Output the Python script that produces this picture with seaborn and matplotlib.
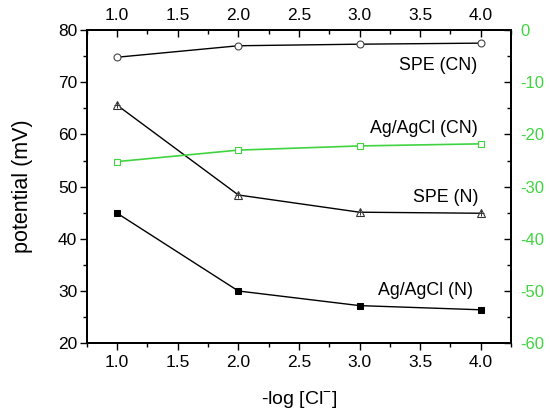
import matplotlib
matplotlib.use("Agg")
import matplotlib.pyplot as plt
import seaborn as sns
import pandas as pd
from matplotlib.ticker import MultipleLocator

sns.set_style("ticks")
plt.rcParams['font.family'] = ['Liberation Sans', 'DejaVu Sans']
plt.rcParams['mathtext.fontset'] = 'custom'
plt.rcParams['mathtext.rm'] = 'Liberation Sans'
plt.rcParams['axes.unicode_minus'] = False
plt.rcParams['text.color'] = 'black'
plt.rcParams['axes.labelcolor'] = 'black'
plt.rcParams['xtick.color'] = 'black'
plt.rcParams['ytick.color'] = 'black'
plt.rcParams['axes.edgecolor'] = 'black'

x = [1.0, 2.0, 3.0, 4.0]
spe_cn = [74.8, 77.0, 77.3, 77.5]
spe_n = [65.6, 48.4, 45.1, 44.9]
agcl_n = [44.9, 30.0, 27.2, 26.4]
agcl_cn = [-25.2, -23.0, -22.2, -21.8]  # right axis

labels = ["SPE (CN)", "Ag/AgCl (CN)", "SPE (N)", "Ag/AgCl (N)"]
green = '#3fd43f'

fig = plt.figure(figsize=(5.5, 4.18), dpi=100)
ax = fig.add_axes([0.158, 0.179, 0.771, 0.749])

df1 = pd.DataFrame({'x': x, 'y': spe_cn})
df2 = pd.DataFrame({'x': x, 'y': spe_n})
df3 = pd.DataFrame({'x': x, 'y': agcl_n})
df4 = pd.DataFrame({'x': x, 'y': agcl_cn})

sns.lineplot(data=df1, x='x', y='y', ax=ax, color='black', lw=1.0,
             marker='o', markersize=5, markerfacecolor='white',
             markeredgecolor='#444444', markeredgewidth=0.8)
sns.lineplot(data=df2, x='x', y='y', ax=ax, color='black', lw=1.0,
             marker='^', markersize=6, markerfacecolor='white',
             markeredgecolor='#333333', markeredgewidth=0.8)
sns.lineplot(data=df2, x='x', y='y', ax=ax, color='black', lw=0,
             marker='+', markersize=5, markeredgecolor='#333333',
             markeredgewidth=0.7)
sns.lineplot(data=df3, x='x', y='y', ax=ax, color='black', lw=1.0,
             marker='s', markersize=4.5, markerfacecolor='black',
             markeredgecolor='black')

ax.set_xlim(0.75, 4.25)
ax.set_ylim(20, 80)
ax.xaxis.set_major_locator(MultipleLocator(0.5))
ax.xaxis.set_minor_locator(MultipleLocator(0.25))
ax.yaxis.set_major_locator(MultipleLocator(10))
ax.yaxis.set_minor_locator(MultipleLocator(5))
ax.xaxis.set_major_formatter(matplotlib.ticker.FormatStrFormatter('%.1f'))
ax.tick_params(axis='both', which='major', direction='out', length=5, width=1.0, labelsize=12.5)
ax.tick_params(axis='y', which='major', pad=2)
ax.tick_params(axis='both', which='minor', direction='out', length=3, width=1.0)
ax.set_xlabel('-log [Cl$^{-}$]', fontsize=14, labelpad=14)
ax.set_ylabel('potential (mV)', fontsize=15.5, labelpad=18)
for s in ax.spines.values():
    s.set_linewidth(1.2)
    s.set_visible(True)

axr = ax.twinx()
sns.lineplot(data=df4, x='x', y='y', ax=axr, color=green, lw=1.2,
             marker='s', markersize=5, markerfacecolor='white',
             markeredgecolor=green, markeredgewidth=0.8)
axr.set_ylim(-60, 0)
axr.yaxis.set_major_locator(MultipleLocator(10))
axr.yaxis.set_minor_locator(MultipleLocator(5))
axr.tick_params(axis='y', which='major', direction='in', length=5, width=1.0,
                labelsize=12, labelcolor=green, pad=7)
axr.tick_params(axis='y', which='minor', direction='in', length=3, width=1.0)
axr.set_ylabel('')
axr.set_xlabel('')

axt = ax.twiny()
axt.set_xlim(0.75, 4.25)
axt.xaxis.set_major_locator(MultipleLocator(0.5))
axt.xaxis.set_minor_locator(MultipleLocator(0.25))
axt.xaxis.set_major_formatter(matplotlib.ticker.FormatStrFormatter('%.1f'))
axt.tick_params(axis='x', which='major', direction='in', length=5, width=1.0, labelsize=12.5, pad=5)
axt.tick_params(axis='x', which='minor', direction='in', length=3, width=1.0)
for a in (axr, axt):
    for s in a.spines.values():
        s.set_linewidth(1.2)

ax.text(3.97, 73.3, labels[0], ha='right', va='center', fontsize=12.8)
ax.text(3.98, 61.2, labels[1], ha='right', va='center', fontsize=12.8)
ax.text(3.98, 48.0, labels[2], ha='right', va='center', fontsize=12.8)
ax.text(3.94, 30.0, labels[3], ha='right', va='center', fontsize=12.8)

fig.savefig('out.png', dpi=100)
